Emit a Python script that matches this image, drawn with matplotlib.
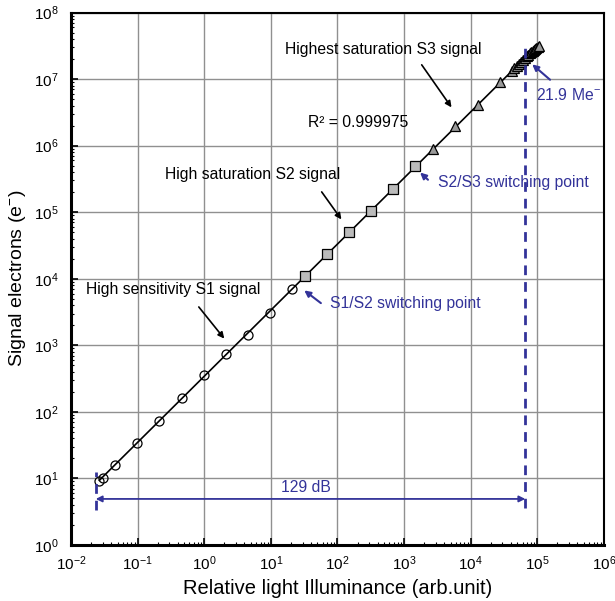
import numpy as np
import matplotlib
matplotlib.use("Agg")
import matplotlib.pyplot as plt

plt.rcParams['font.family'] = ['Liberation Sans', 'DejaVu Sans']
plt.rcParams['mathtext.fontset'] = 'custom'
plt.rcParams['mathtext.rm'] = 'Liberation Sans'
plt.rcParams['mathtext.it'] = 'Liberation Sans:italic'
plt.rcParams['mathtext.bf'] = 'Liberation Sans:bold'
plt.rcParams['axes.unicode_minus'] = False

# S1: high sensitivity signal (circles)
s1_x = [0.0266, 0.0305, 0.046, 0.098, 0.21, 0.46, 0.98, 2.1, 4.6, 9.8, 21]
s1_y = [9.2, 10.3, 15.8, 34, 74, 162, 363, 750, 1420, 3040, 7100]

# S2: high saturation signal (squares)
s2_x = [32, 70, 148, 316, 680, 1460]
s2_y = [11100, 23800, 50000, 105000, 225000, 493000]

# S3: highest saturation signal (triangles)
s3_x = [2750, 5870, 12700, 27500, 41000, 45000, 49000, 53000, 57000, 61000,
        65000, 69000, 73000, 77000, 81000, 85000, 89000, 93000, 97000,
        101000, 105000]
s3_y = [8.9e5, 1.96e6, 4.1e6, 8.9e6, 1.33e7, 1.46e7, 1.58e7, 1.71e7, 1.83e7,
        1.96e7, 2.08e7, 2.19e7, 2.31e7, 2.43e7, 2.54e7, 2.65e7, 2.76e7,
        2.87e7, 2.97e7, 3.07e7, 3.17e7]

# dynamic range limits
x_low = 0.0235
x_high = 6.6e4
dr_db = 20 * np.log10(x_high / x_low)

blue = '#333399'
fs = 11.3

fig = plt.figure(figsize=(6.15, 6.01), dpi=100)
ax = fig.add_axes([0.1155, 0.0932, 0.8665, 0.886])

# linear fit in log-log space over all points
all_x = np.array(s1_x + s2_x + s3_x)
all_y = np.array(s1_y + s2_y + s3_y)
p = np.polyfit(np.log10(all_x), np.log10(all_y), 1)
fx = np.array([all_x.min(), all_x.max()])
ax.plot(fx, 10 ** np.polyval(p, np.log10(fx)), color='black', lw=1.2, zorder=3)

ax.plot(s1_x, s1_y, 'o', ms=6.5, mfc='none', mec='black', mew=0.9, zorder=4)
ax.plot(s2_x, s2_y, 's', ms=6.5, mfc='#bbbbbb', mec='black', mew=0.9, zorder=4)
ax.plot(s3_x, s3_y, '^', ms=6.5, mfc='#999999', mec='black', mew=0.9, zorder=4)

ax.set_xscale('log')
ax.set_yscale('log')
ax.set_xlim(1e-2, 1e6)
ax.set_ylim(1e0, 1e8)
ax.set_xticks([10.0 ** k for k in range(-2, 7)])
ax.set_yticks([10.0 ** k for k in range(0, 9)])
ax.grid(True, which='major', color='#909090', lw=1)
ax.tick_params(which='both', direction='in', labelsize=11)
ax.tick_params(which='major', length=5, width=1.2)
ax.tick_params(which='minor', length=2.5, width=0.8)
ax.tick_params(axis='x', pad=7)
ax.tick_params(axis='y', pad=9)
for side in ['top', 'right']:
    ax.spines[side].set_linewidth(1.5)
for side in ['left', 'bottom']:
    ax.spines[side].set_linewidth(2.2)

ax.set_xlabel('Relative light Illuminance (arb.unit)', fontsize=14.5, labelpad=4)
ax.set_ylabel(r'Signal electrons (e$^{-}$)', fontsize=14, labelpad=4)

# signal labels
arr_k = dict(arrowstyle='-|>', color='black', lw=1.2, mutation_scale=9)
ax.text(16.3, 2.77e7, 'Highest saturation S3 signal', fontsize=fs, va='center')
ax.annotate('', xy=(5440, 3.47e6), xytext=(1740, 1.77e7), arrowprops=arr_k)
ax.text(36, 2.22e6, 'R² = 0.999975', fontsize=fs, va='center')
ax.text(0.258, 3.67e5, 'High saturation S2 signal', fontsize=fs, va='center')
ax.annotate('', xy=(121, 7.2e4), xytext=(54.8, 2.18e5), arrowprops=arr_k)
ax.text(0.0168, 6840, 'High sensitivity S1 signal', fontsize=fs, va='center')
ax.annotate('', xy=(2.12, 1170), xytext=(0.78, 4060), arrowprops=arr_k)

# switching points
arr_b = dict(arrowstyle='-|>', color=blue, lw=1.5, mutation_scale=9)
ax.text(77, 4210, 'S1/S2 switching point', fontsize=fs, va='center', color=blue)
ax.annotate('', xy=(29.4, 7080), xytext=(60.8, 4060), arrowprops=arr_b)
ax.text(3240, 2.78e5, 'S2/S3 switching point', fontsize=fs, va='center', color=blue)
ax.annotate('', xy=(1620, 4.2e5), xytext=(2450, 2.88e5), arrowprops=arr_b)
ax.text(9.6e4, 5.85e6, r'21.9 Me$^{-}$', fontsize=fs, va='center', color=blue)
ax.annotate('', xy=(7.8e4, 1.77e7), xytext=(1.67e5, 9.17e6), arrowprops=arr_b)

# dynamic range markers
ax.plot([x_high, x_high], [3.6, 3.3e7], ls=(0, (3.5, 2.5)), color=blue, lw=2, zorder=5)
ax.plot([x_low, x_low], [3.36, 12.5], ls=(0, (3.5, 2.5)), color=blue, lw=2, zorder=5)
ax.annotate('', xy=(x_high, 4.92), xytext=(x_low, 4.92),
            arrowprops=dict(arrowstyle='<|-|>', color=blue, lw=1.3, mutation_scale=9,
                            shrinkA=0, shrinkB=0))
ax.text(33.8, 7.2, '%.0f dB' % dr_db, fontsize=fs, color=blue, ha='center', va='center')

fig.savefig('out.png', dpi=100)
